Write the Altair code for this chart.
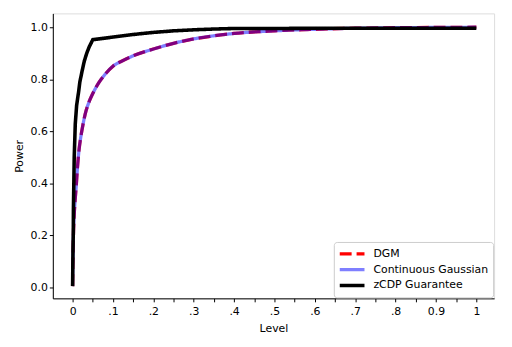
import json
import altair as alt
import pandas as pd

# ---- data ----
series_names = ["DGM", "Continuous Gaussian", "zCDP Guarantee"]

gauss_level = [0, 0.0005, 0.001, 0.002, 0.004, 0.006, 0.009, 0.012, 0.016, 0.02,
               0.025, 0.031, 0.04, 0.05, 0.065, 0.08, 0.1, 0.125, 0.15, 0.2,
               0.25, 0.3, 0.35, 0.4, 0.5, 0.6, 0.7, 0.8, 0.9, 1.0]
gauss_power = [0.005, 0.08, 0.12, 0.2, 0.28, 0.33, 0.39, 0.46, 0.53, 0.575,
               0.62, 0.665, 0.71, 0.745, 0.787, 0.818, 0.85, 0.872, 0.89, 0.916,
               0.938, 0.955, 0.967, 0.976, 0.986, 0.992, 0.996, 0.998, 0.999, 1.0]

dgm_level = [0, 0.0005, 0.001, 0.002, 0.004, 0.006, 0.009, 0.012, 0.016, 0.02,
             0.025, 0.031, 0.04, 0.05, 0.065, 0.08, 0.1, 0.125, 0.15, 0.2,
             0.25, 0.3, 0.35, 0.4, 0.5, 0.6, 0.7, 0.8, 0.9, 1.0]
dgm_power = [0.005, 0.08, 0.12, 0.2, 0.28, 0.33, 0.39, 0.46, 0.53, 0.575,
             0.62, 0.665, 0.71, 0.745, 0.787, 0.818, 0.85, 0.872, 0.89, 0.916,
             0.938, 0.955, 0.967, 0.976, 0.986, 0.992, 0.996, 0.998, 0.999, 1.0]

zcdp_level = [0, 0.0005, 0.001, 0.0017, 0.002, 0.003, 0.004, 0.0066, 0.01, 0.015,
              0.018, 0.024, 0.029, 0.035, 0.041, 0.05, 0.075, 0.1, 0.15, 0.2,
              0.25, 0.3, 0.35, 0.4, 0.5, 0.6, 0.7, 0.8, 0.9, 1.0]
zcdp_power = [0.005, 0.08, 0.15, 0.21, 0.3, 0.4, 0.5, 0.628, 0.7, 0.753,
              0.79, 0.835, 0.87, 0.9, 0.924, 0.952, 0.957, 0.962, 0.972, 0.98,
              0.986, 0.99, 0.993, 0.995, 0.995, 0.996, 0.996, 0.996, 0.996, 0.996]

x_tick_values = [0, 0.05, 0.1, 0.15, 0.2, 0.25, 0.3, 0.35, 0.4, 0.45, 0.5,
                 0.55, 0.6, 0.65, 0.7, 0.75, 0.8, 0.85, 0.9, 0.95, 1.0]
x_tick_labels = ["0", "", ".1", "", ".2", "", ".3", "", ".4", "", ".5",
                 "", ".6", "", ".7", "", ".8", "", "0.9", "", "1"]
y_tick_values = [0, 0.2, 0.4, 0.6, 0.8, 1.0]

rows = []
for lv, pw in zip(dgm_level, dgm_power):
    rows.append({"series": "DGM", "Level": lv, "Power": pw})
for lv, pw in zip(gauss_level, gauss_power):
    rows.append({"series": "Continuous Gaussian", "Level": lv, "Power": pw})
for lv, pw in zip(zcdp_level, zcdp_power):
    rows.append({"series": "zCDP Guarantee", "Level": lv, "Power": pw})
df = pd.DataFrame(rows)

label_expr = json.dumps(x_tick_labels) + "[round(datum.value * 20)]"

legend = alt.Legend(
    title=None, orient="none", legendX=284, legendY=231,
    symbolType="stroke", symbolSize=625, symbolStrokeWidth=3.3,
    labelFontSize=11, labelFont="DejaVu Sans", labelColor="black",
    fillColor="white", strokeColor="#cccccc", cornerRadius=3,
    padding=4, rowPadding=0, labelOffset=7, clipHeight=16,
)

axis_style = dict(grid=False, tickSize=3.5, tickColor="black", domainColor="black",
                  labelFontSize=11, titleFontSize=11, labelFont="DejaVu Sans",
                  titleFont="DejaVu Sans", titleFontWeight="normal",
                  labelColor="black", titleColor="black",
                  labelFlush=False)

base = alt.Chart(df).encode(
    x=alt.X("Level:Q",
            scale=alt.Scale(domain=[-0.049, 1.044], nice=False, zero=False),
            axis=alt.Axis(title="Level", values=x_tick_values, labelExpr=label_expr,
                          labelPadding=4, titlePadding=6, **axis_style)),
    y=alt.Y("Power:Q",
            scale=alt.Scale(domain=[-0.042, 1.053], nice=False, zero=False),
            axis=alt.Axis(title="Power", values=y_tick_values, format=".1f",
                          labelPadding=2, titlePadding=6, **axis_style)),
    color=alt.Color("series:N",
                    scale=alt.Scale(domain=series_names,
                                    range=["#ff0000", "rgba(0,0,255,0.5)", "#000000"]),
                    legend=legend),
    strokeDash=alt.StrokeDash("series:N",
                              scale=alt.Scale(domain=series_names,
                                              range=[[12, 5], [1, 0], [1, 0]]),
                              legend=legend),
    order="Level:Q",
)

dgm_layer = base.transform_filter(alt.datum.series == "DGM").mark_line(
    strokeWidth=3.3, interpolate="monotone")
gauss_layer = base.transform_filter(alt.datum.series == "Continuous Gaussian").mark_line(
    strokeWidth=3.3, interpolate="monotone")
zcdp_layer = base.transform_filter(alt.datum.series == "zCDP Guarantee").mark_line(
    strokeWidth=3.6)

chart = alt.layer(dgm_layer, gauss_layer, zcdp_layer).properties(
    width=446, height=288,
    autosize=alt.AutoSizeParams(type="none"),
    padding={"left": 45.3, "top": 3.7, "right": 10, "bottom": 40},
).configure_view(stroke="black", strokeWidth=1).configure(background="white")

chart.save("out.html", embed_options={"renderer": "svg", "actions": False})
